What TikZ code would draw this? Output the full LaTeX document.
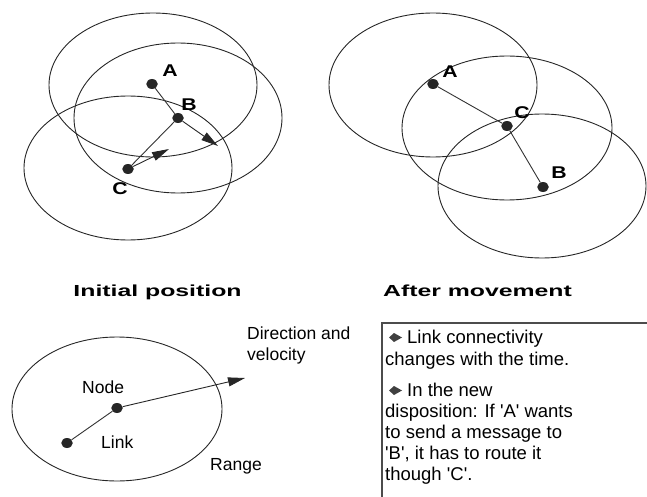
\documentclass[tikz,border=0pt]{standalone}
\usepackage{fontspec}
\setmainfont{Liberation Sans}
\usetikzlibrary{arrows.meta,shapes.geometric}
\tikzset{
  rangeell/.style={draw=black!85,line width=0.9pt},
  dotnode/.style={ellipse,fill=black!85,draw=none,minimum width=11.5pt,minimum height=10pt,inner sep=0pt},
  linkline/.style={draw=black!80,line width=0.9pt},
  moveline/.style={draw=black!85,line width=0.9pt,-{Triangle[length=17pt,width=9pt]}},
  lbltext/.style={font=\fontsize{17}{17}\selectfont\bfseries,inner sep=0pt},
  ttltext/.style={font=\fontsize{16}{16}\selectfont\bfseries,inner sep=0pt,anchor=base},
  smalltext/.style={font=\fontsize{17.5}{21}\selectfont,inner sep=0pt,anchor=base west},
  boxtext/.style={font=\fontsize{18.5}{21.5}\selectfont,inner sep=0pt,anchor=base west},
  bulletfill/.style={fill=black!75}
}
\begin{document}
\begin{tikzpicture}[x=1pt,y=-1pt]
\useasboundingbox (0,0) rectangle (647,497);

% ---------- Initial position ----------
\draw[rangeell] (153,85) ellipse [x radius=104,y radius=72];
\draw[rangeell] (178,118) ellipse [x radius=104,y radius=75];
\draw[rangeell] (128,168) ellipse [x radius=104,y radius=72];
\node[dotnode] (A1) at (152,84) {};
\node[dotnode] (B1) at (178,118) {};
\node[dotnode] (C1) at (128,169) {};
\coordinate (B1v) at (218,146);
\coordinate (C1v) at (169,149);
\draw[linkline] (A1) -- (B1);
\draw[linkline] (B1) -- (C1);
\draw[moveline] (B1) -- (B1v);
\draw[moveline] (C1) -- (C1v);
\node[lbltext] (lA1) at (170,71) {\scalebox{1.25}[1]{A}};
\node[lbltext] (lB1) at (189,105) {\scalebox{1.25}[1]{B}};
\node[lbltext] (lC1) at (120,189) {\scalebox{1.25}[1]{C}};
\node[ttltext] (t1) at (157.5,296) {\scalebox{1.55}[1]{Initial position}};

% ---------- After movement ----------
\draw[rangeell] (433,85) ellipse [x radius=104,y radius=72];
\draw[rangeell] (507,128) ellipse [x radius=105,y radius=72];
\draw[rangeell] (542,186) ellipse [x radius=104,y radius=72];
\node[dotnode] (A2) at (433,84) {};
\node[dotnode] (C2) at (507,126) {};
\node[dotnode] (B2) at (543,187) {};
\draw[linkline] (A2) -- (C2);
\draw[linkline] (C2) -- (B2);
\node[lbltext] (lA2) at (450,72) {\scalebox{1.25}[1]{A}};
\node[lbltext] (lC2) at (522,113) {\scalebox{1.25}[1]{C}};
\node[lbltext] (lB2) at (559,173) {\scalebox{1.25}[1]{B}};
\node[ttltext] (t2) at (477.5,296) {\scalebox{1.55}[1]{After movement}};

% ---------- Legend ----------
\draw[rangeell] (117,409) ellipse [x radius=105,y radius=72];
\node[dotnode] (N) at (117,408) {};
\node[dotnode] (M) at (67,443) {};
\coordinate (Nv) at (245,378);
\draw[linkline] (M) -- (N);
\draw[moveline] (N) -- (Nv);
\node[smalltext] (lNode) at (82,393) {Node};
\node[smalltext] (lLink) at (101,448) {Link};
\node[smalltext] (lRange) at (210,470) {Range};
\node[smalltext] (lDir) at (247,339) {Direction and};
\node[smalltext] (lVel) at (247,360) {velocity};

% ---------- Text box ----------
\draw[black!70,line width=1.1pt] (647,323) -- (382,323) -- (382,497);
\fill[bulletfill] (389,337.5) -- (394,333) -- (402,337.5) -- (394,342) -- cycle;
\fill[bulletfill] (389,390.5) -- (394,386) -- (402,390.5) -- (394,395) -- cycle;
\node[boxtext] (b1) at (407,343) {Link connectivity};
\node[boxtext] (b2) at (385,365) {changes with the time.};
\node[boxtext] (b3) at (407,396) {In the new};
\node[boxtext] (b4) at (385,417) {disposition: If \textquotesingle A\textquotesingle\ wants};
\node[boxtext] (b5) at (385,438) {to send a message to};
\node[boxtext] (b6) at (385,459) {\textquotesingle B\textquotesingle, it has to route it};
\node[boxtext] (b7) at (385,480) {though \textquotesingle C\textquotesingle.};
\end{tikzpicture}
\end{document}
